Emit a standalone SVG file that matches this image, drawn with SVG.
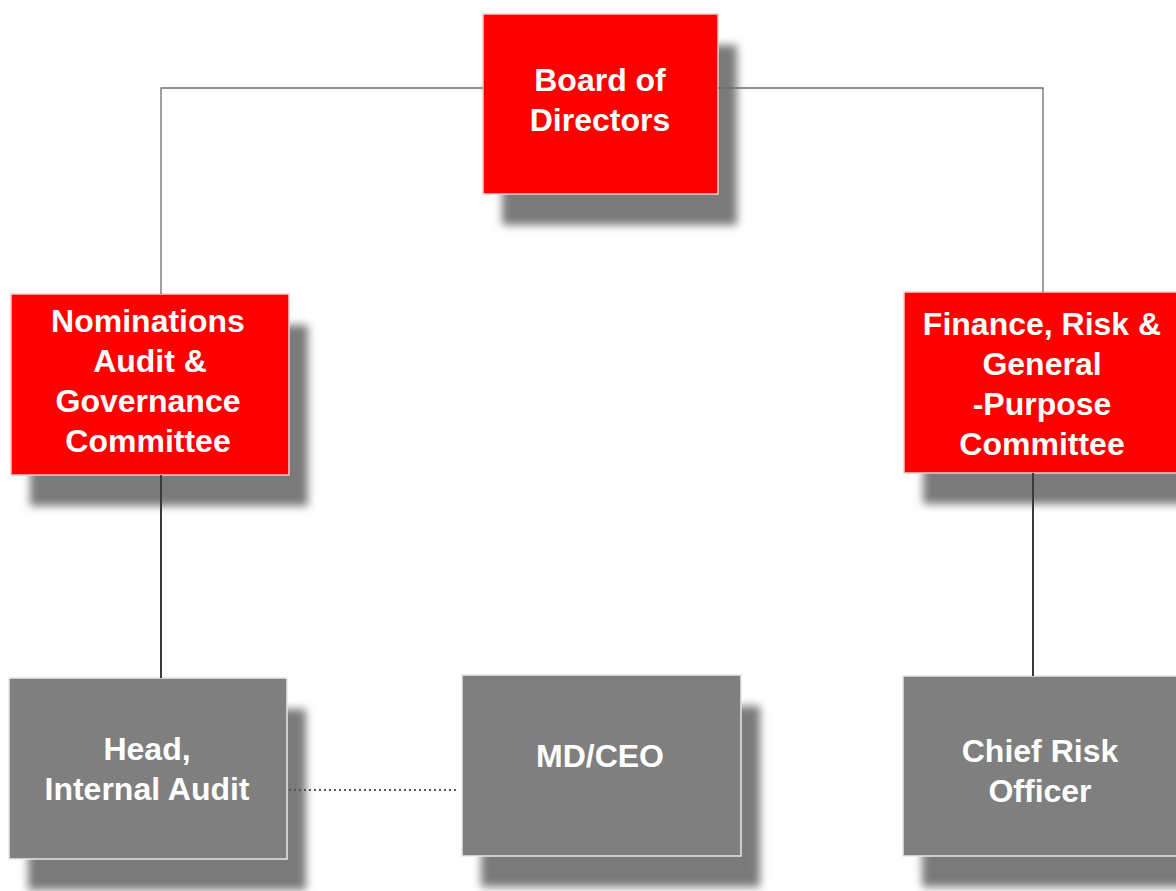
<svg xmlns="http://www.w3.org/2000/svg" width="1176" height="891" viewBox="0 0 1176 891">
  <defs>
    <filter id="soft" x="-20%" y="-20%" width="140%" height="140%">
      <feGaussianBlur stdDeviation="4.5"/>
    </filter>
    <style>
      .shadow { fill: #7a7a7a; filter: url(#soft); }
      .red { fill: #ff0000; stroke: #f4caca; stroke-width: 1.5; }
      .grey { fill: #7f7f7f; stroke: #e6e6e6; stroke-width: 1.5; }
      .label { font-family: "Liberation Sans", Arial, sans-serif; font-weight: bold; font-size: 32px; fill: #ffffff; text-anchor: middle; }
      .thin { fill: none; stroke: #6e6e6e; stroke-width: 1.3; }
      .thick { fill: none; stroke: #3a3a3a; stroke-width: 2; }
      .dotted { fill: none; stroke: #555555; stroke-width: 2; stroke-dasharray: 2 3; }
    </style>
  </defs>

  <rect width="1176" height="891" fill="#ffffff"/>

  <g id="board">
    <rect class="shadow" x="502" y="45" width="235" height="180"/>
    <rect class="red" x="483" y="14" width="235" height="180"/>
    <text class="label" x="600" y="91">Board of</text>
    <text class="label" x="600" y="131">Directors</text>
  </g>

  <g id="nominations">
    <rect class="shadow" x="30" y="325" width="278" height="181"/>
    <rect class="red" x="11" y="294" width="278" height="181"/>
    <text class="label" x="148" y="332">Nominations</text>
    <text class="label" x="150" y="372">Audit &amp;</text>
    <text class="label" x="148" y="412">Governance</text>
    <text class="label" x="148" y="452">Committee</text>
  </g>

  <g id="finance">
    <rect class="shadow" x="923" y="323" width="272" height="181"/>
    <rect class="red" x="904" y="292" width="280" height="181"/>
    <text class="label" x="1042" y="335">Finance, Risk &amp;</text>
    <text class="label" x="1042" y="375">General</text>
    <text class="label" x="1042" y="415">-Purpose</text>
    <text class="label" x="1042" y="455">Committee</text>
  </g>

  <g id="head-internal-audit">
    <rect class="shadow" x="28" y="709" width="278" height="181"/>
    <rect class="grey" x="9" y="678" width="278" height="181"/>
    <text class="label" x="147" y="760">Head,</text>
    <text class="label" x="147" y="800">Internal Audit</text>
  </g>

  <g id="md-ceo">
    <rect class="shadow" x="481" y="706" width="279" height="181"/>
    <rect class="grey" x="462" y="675" width="279" height="181"/>
    <text class="label" x="600" y="767">MD/CEO</text>
  </g>

  <g id="chief-risk-officer">
    <rect class="shadow" x="922" y="707" width="272" height="180"/>
    <rect class="grey" x="903" y="676" width="281" height="180"/>
    <text class="label" x="1040" y="762">Chief Risk</text>
    <text class="label" x="1040" y="802">Officer</text>
  </g>

  <!-- connectors run edge to edge, so they sit above the drop shadows -->
  <g id="connectors">
    <polyline class="thin" points="483,88 161,88 161,294"/>
    <polyline class="thin" points="718,88 1043,88 1043,292"/>
    <line class="thick" x1="161" y1="475" x2="161" y2="678"/>
    <line class="thick" x1="1033" y1="473" x2="1033" y2="676"/>
    <line class="dotted" x1="289" y1="790" x2="456" y2="790"/>
  </g>
</svg>
